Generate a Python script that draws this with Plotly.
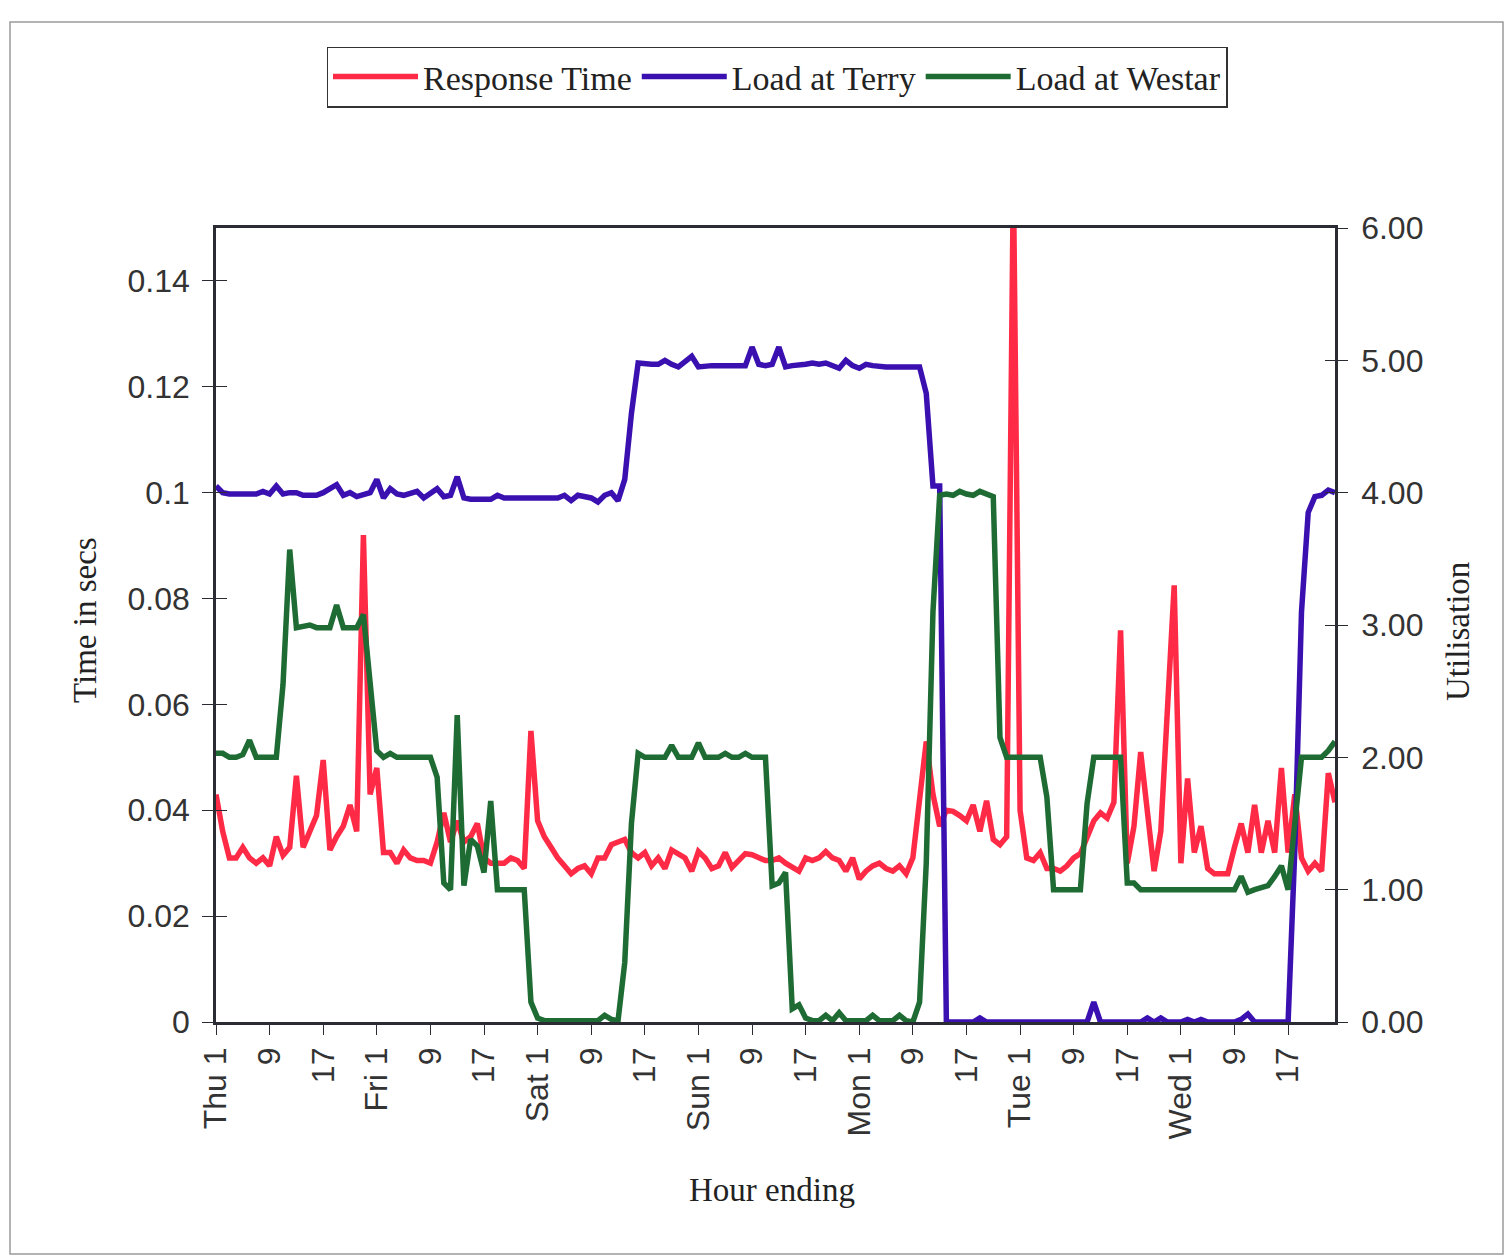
import plotly.graph_objects as go

# Hourly samples, Thursday hour 1 through Wednesday hour 24
hours = list(range(168))

tick_positions = list(range(0, 168, 8))
tick_labels = ["Thu 1", "9", "17", "Fri 1", "9", "17", "Sat 1", "9", "17",
               "Sun 1", "9", "17", "Mon 1", "9", "17", "Tue 1", "9", "17",
               "Wed 1", "9", "17"]

# Response time in seconds (left axis)
response_time = [
    0.043, 0.036, 0.031, 0.031, 0.033, 0.031, 0.030, 0.031, 0.0295, 0.035,
    0.0315, 0.033, 0.0465, 0.033, 0.036, 0.039, 0.0495, 0.0325, 0.035, 0.037,
    0.041, 0.036, 0.092, 0.043, 0.048, 0.032, 0.032, 0.030, 0.0325, 0.031,
    0.0305, 0.0305, 0.030, 0.034, 0.0395, 0.034, 0.038, 0.034, 0.035, 0.0375,
    0.031, 0.030, 0.030, 0.030, 0.031, 0.0305, 0.029, 0.055, 0.038, 0.035,
    0.033, 0.031, 0.0295, 0.028, 0.029, 0.0295, 0.028, 0.031, 0.031, 0.0335,
    0.034, 0.0345, 0.032, 0.031, 0.032, 0.0295, 0.031, 0.029, 0.0325, 0.0318,
    0.031, 0.0285, 0.0322, 0.031, 0.029, 0.0295, 0.032, 0.0292, 0.0305, 0.0318,
    0.0316, 0.031, 0.0305, 0.0305, 0.031, 0.030, 0.0292, 0.0285, 0.031, 0.0305,
    0.031, 0.0322, 0.031, 0.0305, 0.0285, 0.031, 0.027, 0.0285, 0.0295, 0.030,
    0.029, 0.0285, 0.0295, 0.028, 0.031, 0.041, 0.053, 0.043, 0.037, 0.040,
    0.0398, 0.039, 0.038, 0.041, 0.036, 0.0418, 0.0345, 0.0335, 0.035, 0.16,
    0.040, 0.031, 0.0305, 0.032, 0.029, 0.029, 0.0285, 0.0295, 0.031, 0.0318,
    0.035, 0.038, 0.0395, 0.0385, 0.0415, 0.074, 0.030, 0.037, 0.051, 0.040,
    0.0285, 0.036, 0.058, 0.0825, 0.030, 0.046, 0.032, 0.037, 0.029, 0.028,
    0.028, 0.028, 0.033, 0.0375, 0.032, 0.041, 0.032, 0.038, 0.032, 0.048,
    0.032, 0.043, 0.031, 0.0285, 0.030, 0.0285, 0.047, 0.0415,
]

# Utilisation at Terry (right axis)
load_terry = [
    4.05, 4.00, 3.99, 3.99, 3.99, 3.99, 3.99, 4.01, 3.99, 4.05,
    3.99, 4.00, 4.00, 3.98, 3.98, 3.98, 4.00, 4.03, 4.06, 3.98,
    4.00, 3.97, 3.98, 4.00, 4.10, 3.96, 4.03, 3.99, 3.98, 3.99,
    4.01, 3.96, 3.99, 4.03, 3.97, 3.98, 4.12, 3.96, 3.95, 3.95,
    3.95, 3.95, 3.98, 3.96, 3.96, 3.96, 3.96, 3.96, 3.96, 3.96,
    3.96, 3.96, 3.98, 3.94, 3.98, 3.97, 3.96, 3.93, 3.98, 4.00,
    3.94, 4.10, 4.60, 4.98, 4.97, 4.97, 4.97, 5.00, 4.97, 4.95,
    4.99, 5.03, 4.95, 4.96, 4.96, 4.96, 4.96, 4.96, 4.96, 4.96,
    5.10, 4.97, 4.96, 4.97, 5.10, 4.95, 4.96, 4.96, 4.97, 4.98,
    4.97, 4.98, 4.96, 4.94, 5.00, 4.96, 4.94, 4.97, 4.96, 4.95,
    4.95, 4.95, 4.95, 4.95, 4.95, 4.95, 4.75, 4.05, 4.05, 0.00,
    0.00, 0.00, 0.00, 0.00, 0.03, 0.00, 0.00, 0.00, 0.00, 0.00,
    0.00, 0.00, 0.00, 0.00, 0.00, 0.00, 0.00, 0.00, 0.00, 0.00,
    0.00, 0.15, 0.00, 0.00, 0.00, 0.00, 0.00, 0.00, 0.00, 0.03,
    0.00, 0.03, 0.00, 0.00, 0.00, 0.02, 0.00, 0.02, 0.00, 0.00,
    0.00, 0.00, 0.00, 0.02, 0.06, 0.00, 0.00, 0.00, 0.00, 0.00,
    0.00, 1.30, 3.10, 3.85, 3.97, 3.98, 4.02, 4.00,
]

# Utilisation at Westar (right axis)
load_westar = [
    2.03, 2.03, 2.00, 2.00, 2.02, 2.13, 2.00, 2.00, 2.00, 2.00,
    2.55, 3.57, 2.98, 2.99, 3.00, 2.98, 2.98, 2.98, 3.15, 2.98,
    2.98, 2.98, 3.08, 2.55, 2.05, 2.00, 2.03, 2.00, 2.00, 2.00,
    2.00, 2.00, 2.00, 1.85, 1.05, 1.00, 2.32, 1.03, 1.38, 1.33,
    1.13, 1.67, 1.00, 1.00, 1.00, 1.00, 1.00, 0.15, 0.03, 0.01,
    0.01, 0.01, 0.01, 0.01, 0.01, 0.01, 0.01, 0.01, 0.05, 0.02,
    0.01, 0.45, 1.50, 2.03, 2.00, 2.00, 2.00, 2.00, 2.09, 2.00,
    2.00, 2.00, 2.11, 2.00, 2.00, 2.00, 2.03, 2.00, 2.00, 2.03,
    2.00, 2.00, 2.00, 1.03, 1.05, 1.13, 0.10, 0.13, 0.03, 0.01,
    0.01, 0.05, 0.01, 0.07, 0.01, 0.01, 0.01, 0.01, 0.05, 0.01,
    0.01, 0.01, 0.05, 0.01, 0.00, 0.15, 1.20, 3.10, 3.98, 3.99,
    3.98, 4.01, 3.99, 3.98, 4.01, 3.99, 3.97, 2.15, 2.00, 2.00,
    2.00, 2.00, 2.00, 2.00, 1.70, 1.00, 1.00, 1.00, 1.00, 1.00,
    1.65, 2.00, 2.00, 2.00, 2.00, 2.00, 1.05, 1.05, 1.00, 1.00,
    1.00, 1.00, 1.00, 1.00, 1.00, 1.00, 1.00, 1.00, 1.00, 1.00,
    1.00, 1.00, 1.00, 1.10, 0.98, 1.00, 1.02, 1.03, 1.10, 1.18,
    1.00, 1.50, 2.00, 2.00, 2.00, 2.00, 2.05, 2.12,
]

RED = "#FF2A45"
BLUE = "#3A10B0"
GREEN = "#1E6B33"
AXIS = "#2b2b33"
SANS = "Liberation Sans"
SERIF = "Liberation Serif"
LW = 5.5

fig = go.Figure()
fig.add_trace(go.Scatter(x=hours, y=response_time, name="Response Time",
                         mode="lines", line=dict(color=RED, width=LW),
                         yaxis="y"))
fig.add_trace(go.Scatter(x=hours, y=load_terry, name="Load at Terry",
                         mode="lines", line=dict(color=BLUE, width=LW),
                         yaxis="y2"))
fig.add_trace(go.Scatter(x=hours, y=load_westar, name="Load at Westar",
                         mode="lines", line=dict(color=GREEN, width=LW),
                         yaxis="y2"))
# empty traces that carry the inner halves of the crossing tick marks
fig.add_trace(go.Scatter(x=[None], y=[None], yaxis="y3", showlegend=False,
                         hoverinfo="skip"))
fig.add_trace(go.Scatter(x=[None], y=[None], yaxis="y4", showlegend=False,
                         hoverinfo="skip"))

L, R, T, B = 216, 1335, 228, 1022
W, H = 1505, 1259
pw, ph = R - L, B - T


def px(x):
    return (x - L) / pw


def py(y):
    return (B - y) / ph


left_ticks = [0, 0.02, 0.04, 0.06, 0.08, 0.10, 0.12, 0.14]
left_text = ["0", "0.02", "0.04", "0.06", "0.08", "0.1", "0.12", "0.14"]
right_ticks = [0, 1, 2, 3, 4, 5, 6]

fig.update_layout(
    width=W, height=H,
    margin=dict(l=L, r=W - R, t=T, b=H - B),
    paper_bgcolor="white", plot_bgcolor="white",
    showlegend=True,
    legend=dict(orientation="h", x=px(777), y=py(77), xanchor="center",
                yanchor="middle", font=dict(family=SERIF, size=34, color="#222"),
                bordercolor="#333", borderwidth=1.5, itemwidth=85,
                bgcolor="white"),
    xaxis=dict(range=[0, 167], tickvals=tick_positions, ticktext=tick_labels,
               tickangle=-90, ticks="outside", ticklen=10, tickwidth=1.2,
               tickcolor=AXIS, showline=True, linecolor=AXIS, linewidth=2.5,
               mirror=True, showgrid=False, zeroline=False,
               tickfont=dict(family=SANS, size=32, color="#333")),
    yaxis=dict(range=[0, 0.15], tickvals=left_ticks, ticktext=left_text,
               ticks="outside", ticklen=11, tickwidth=1.2, tickcolor=AXIS,
               showline=True, linecolor=AXIS, linewidth=2.5, showgrid=False,
               zeroline=False, ticklabelstandoff=6,
               tickfont=dict(family=SANS, size=32, color="#333")),
    yaxis2=dict(range=[0, 6], tickvals=right_ticks, tickformat=".2f",
                overlaying="y", side="right", ticks="outside", ticklen=10,
                tickwidth=1.2, tickcolor=AXIS, showline=True, linecolor=AXIS,
                linewidth=2.5, showgrid=False, zeroline=False,
                ticklabelstandoff=7,
                tickfont=dict(family=SANS, size=32, color="#333")),
    yaxis3=dict(range=[0, 0.15], tickvals=left_ticks, overlaying="y",
                side="left", ticks="inside", ticklen=11, tickwidth=1.2,
                tickcolor=AXIS, showticklabels=False, showline=False,
                showgrid=False, zeroline=False),
    yaxis4=dict(range=[0, 6], tickvals=right_ticks, overlaying="y",
                side="right", ticks="inside", ticklen=10, tickwidth=1.2,
                tickcolor=AXIS, showticklabels=False, showline=False,
                showgrid=False, zeroline=False),
    annotations=[
        dict(text="Hour ending", xref="paper", yref="paper", x=px(772),
             y=py(1190), showarrow=False, xanchor="center", yanchor="middle",
             font=dict(family=SERIF, size=33, color="#222")),
        dict(text="Time in secs", xref="paper", yref="paper", x=px(85),
             y=py(620), showarrow=False, textangle=-90, xanchor="center",
             yanchor="middle", font=dict(family=SERIF, size=33, color="#222")),
        dict(text="Utilisation", xref="paper", yref="paper", x=px(1458),
             y=py(632), showarrow=False, textangle=-90, xanchor="center",
             yanchor="middle", font=dict(family=SERIF, size=33, color="#222")),
    ],
    shapes=[
        # chart area frame
        dict(type="rect", xref="paper", yref="paper", x0=px(10), x1=px(1503),
             y0=py(1254), y1=py(22), line=dict(color="#9a9a9a", width=1.5),
             layer="below"),
    ],
)

fig.write_html("out.html")
